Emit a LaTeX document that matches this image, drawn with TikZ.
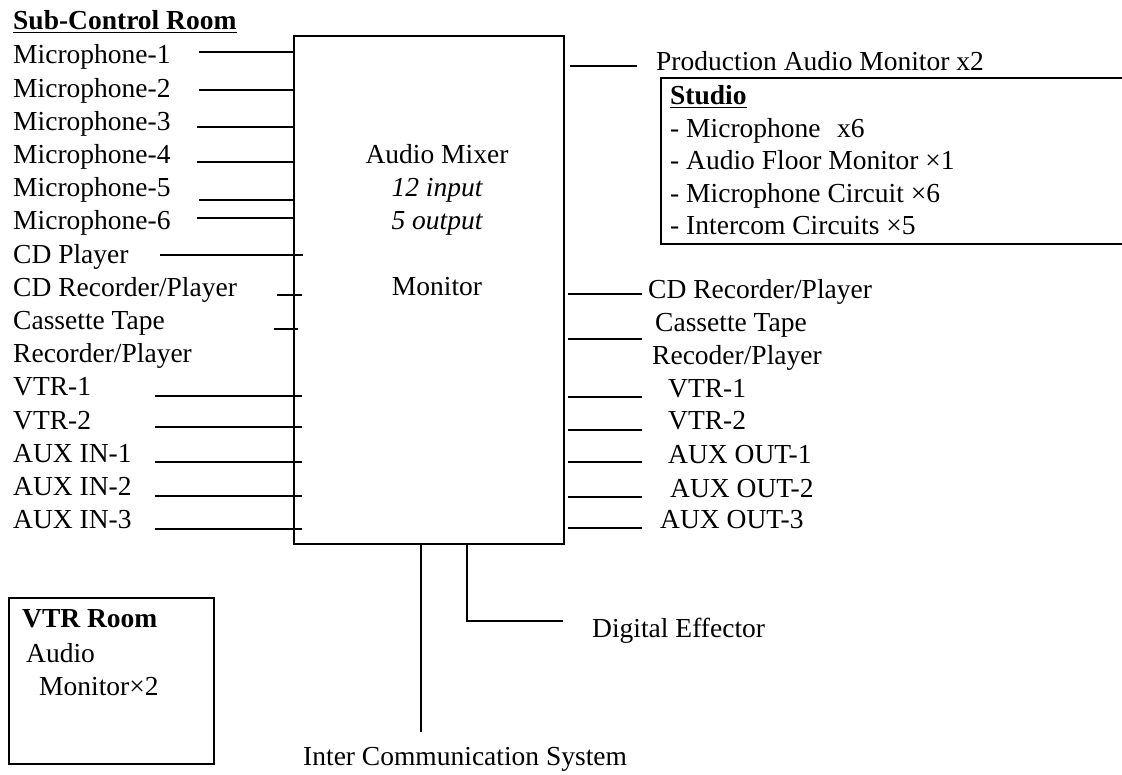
\documentclass[tikz,border=0pt]{standalone}
\usepackage{fontspec}
\setmainfont{Liberation Serif}
\usetikzlibrary{positioning}

\tikzset{
  am/txt/.style={anchor=base west, inner sep=0pt,
    font=\fontsize{27.5}{33}\selectfont},
  am/mid/.style={am/txt, anchor=base},
  am/head/.style={am/txt, font=\fontsize{27.5}{33}\selectfont\bfseries},
  am/box/.style={draw, line width=1.6pt, inner sep=0pt, anchor=north west},
  am/wire/.style={line width=1.6pt}
}

\begin{document}
\begin{tikzpicture}[x=1pt, y=-1pt]
  \useasboundingbox (0,0) rectangle (1122,775);

  % mixer block
  \node[am/box, minimum width=270pt, minimum height=508pt] (mixer) at (293,35) {};
  \node[am/mid] (mixname) at (437,164) {Audio Mixer};
  \node[am/mid] (mixin)   at (437,197) {\itshape 12 input};
  \node[am/mid] (mixout)  at (437,230) {\itshape 5 output};
  \node[am/mid] (mixmon)  at (437,296) {Monitor};

  % sub-control room inputs
  \node[am/head] (subctl) at (13,30) {\underline{Sub-Control Room}};
  \foreach \name/\row/\yl/\xa/\xb in {
      Microphone-1/0/52/199/293, Microphone-2/1/90/199/293,
      Microphone-3/2/127/197/293, Microphone-4/3/162/197/293,
      Microphone-5/4/200/199/293, Microphone-6/5/218/197/293,
      CD Player/6/255/160/303, CD Recorder\slash Player/7/295/277/302,
      Cassette Tape/8/329/274/298,
      VTR-1/10/396/155/302, VTR-2/11/427/155/302,
      AUX IN-1/12/462/155/302, AUX IN-2/13/496/155/302,
      AUX IN-3/14/529/155/302} {
    \node[am/txt] (in\row) at (13,64+33.2*\row) {\name};
    \draw[am/wire] (\xa,\yl) -- (\xb,\yl);
  }
  \node[am/txt] (in9) at (13,64+33.2*9) {Recorder/Player};

  % outputs
  \node[am/txt] (prodmon) at (656,71) {Production Audio Monitor x2};
  \draw[am/wire] (570,66) -- (637,66);
  \foreach \name/\xt/\yt/\yl in {
      CD Recorder\slash Player/648/299/294, Cassette Tape/655/332/339,
      VTR-1/668/398/397, VTR-2/668/430/430,
      AUX OUT-1/668/463/462, AUX OUT-2/670/497/497,
      AUX OUT-3/660/528/528} {
    \node[am/txt] (out\yl) at (\xt,\yt) {\name};
    \draw[am/wire] (568,\yl) -- (642,\yl);
  }
  \node[am/txt] (outrec) at (652,365) {Recoder/Player};

  % studio
  \node[am/box, minimum width=480pt, minimum height=166pt] (studio) at (660,77) {};
  \node[am/head] (studiohd) at (670,105) {\underline{Studio}};
  \node[am/txt] (st1) at (670,138) {- Microphone\hspace{0.6em}x6};
  \node[am/txt] (st2) at (670,170) {- Audio Floor Monitor ×1};
  \node[am/txt] (st3) at (670,203) {- Microphone Circuit ×6};
  \node[am/txt] (st4) at (670,235) {- Intercom Circuits ×5};

  % VTR room
  \node[am/box, minimum width=205pt, minimum height=166pt] (vtrroom) at (8,597) {};
  \node[am/head] (vtrhd) at (22,627) {VTR Room};
  \node[am/txt] (vtr1) at (26,662) {Audio};
  \node[am/txt] (vtr2) at (39,695) {Monitor×2};

  % bottom links
  \node[am/txt] (intercom) at (303,765) {Inter Communication System};
  \node[am/txt] (effector) at (592,637) {Digital Effector};
  \draw[am/wire] (mixer.south -| 421,0) -- (421,732);
  \draw[am/wire] (mixer.south -| 467,0) |- (563,621);
\end{tikzpicture}
\end{document}
